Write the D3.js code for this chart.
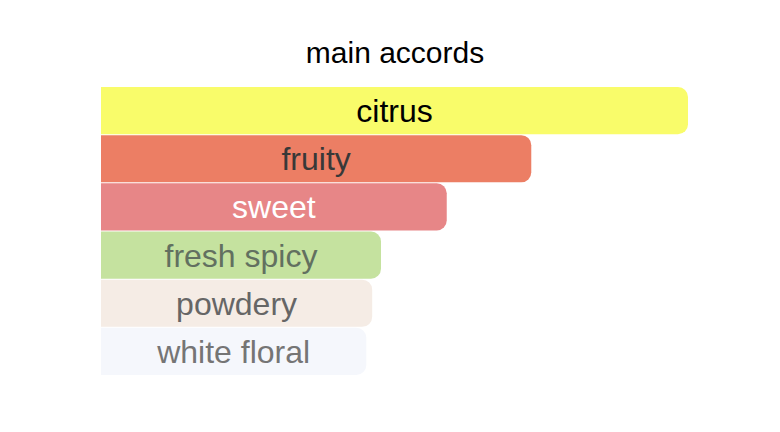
<!DOCTYPE html>
<html>
<head>
<meta charset="utf-8">
<script src="https://cdn.jsdelivr.net/npm/d3@7"></script>
<style>
	html, body { margin: 0; padding: 0; background: #fff; }
	svg { display: block; font-family: "Liberation Sans", Arial, Helvetica, sans-serif; }
</style>
</head>
<body>
<script>
// accords, from strongest to weakest
const accords = ['citrus', 'fruity', 'sweet', 'fresh spicy', 'powdery', 'white floral'];
const strength = [100, 73.3, 58.9, 47.7, 46.2, 45.2];
const barColors = ['#f9fc6a', '#ec7e64', '#e78687', '#c5e29f', '#f5ece5', '#f5f7fc'];
const textColors = ['#000000', '#383838', '#ffffff', '#627060', '#666666', '#757575'];

const width = 780;
const height = 432;
const left = 101;
const right = 688;
const radius = 10;

let svg = d3.select('body')
	.append('svg:svg')
	.attr('width', width)
	.attr('height', height);

let x = d3.scaleLinear()
	.domain([0, 100])
	.range([left, right]);

let y = d3.scaleBand()
	.domain(accords)
	.range([87, 375])
	.paddingInner(0.02);

// bar with square left side and rounded right corners
function barPath(x0, x1, y0, h) {
	let r = Math.min(radius, (x1 - x0) / 2, h / 2);
	return `M${x0},${y0}H${x1 - r}` +
		`A${r},${r} 0 0 1 ${x1},${y0 + r}` +
		`V${y0 + h - r}` +
		`A${r},${r} 0 0 1 ${x1 - r},${y0 + h}` +
		`H${x0}Z`;
}

svg.append('text')
	.attr('x', 395)
	.attr('y', 63)
	.attr('text-anchor', 'middle')
	.style('font-size', '30px')
	.style('fill', '#000')
	.text('main accords');

let rows = svg.append('g').selectAll('g')
	.data(accords)
	.enter().append('g');

rows.append('path')
	.attr('d', (d, i) => barPath(x(0), x(strength[i]), y(d), y.bandwidth()))
	.style('fill', (d, i) => barColors[i]);

rows.append('text')
	.attr('x', (d, i) => (x(0) + x(strength[i])) / 2)
	.attr('y', d => y(d) + y.bandwidth() / 2)
	.attr('dy', '0.36em')
	.attr('text-anchor', 'middle')
	.style('font-size', '32px')
	.style('fill', (d, i) => textColors[i])
	.text(d => d);
</script>
</body>
</html>
